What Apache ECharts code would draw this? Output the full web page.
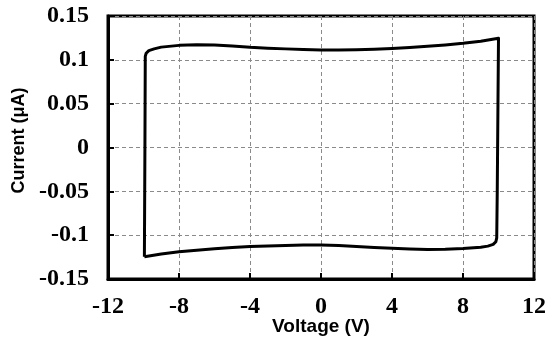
<!DOCTYPE html>
<html lang="en">

<head>
    <meta charset="UTF-8">
    <title>Current vs Voltage</title>
    <script src="https://cdn.jsdelivr.net/npm/echarts@6/dist/echarts.min.js"></script>
    <style>
        body { margin: 0; background: #fff; }
    </style>
</head>

<body>
    <div id="cv" style="width: 550px;height: 348px;"></div>
    <script>
        // loop: up the left edge, forward scan along the top, down the right edge, back along the bottom
        var voltage = [-9.95, -9.92, -9.9, -9.85, -9.7, -9.4, -9, -8, -7, -6, -5, -4, -3, -2, -1, 0,
            1, 2, 3, 4, 5, 6, 7, 8, 9, 10, 9.97, 9.93, 9.9, 9.85, 9.7, 9.4, 9, 8, 7, 6, 5, 4, 3, 2, 1, 0,
            -1, -2, -3, -4, -5, -6, -7, -8, -9, -9.95];
        var current = [-0.1245, 0, 0.104, 0.1075, 0.1105, 0.1125, 0.1145, 0.1165, 0.1173, 0.117, 0.1158,
            0.1143, 0.1133, 0.1125, 0.1117, 0.1112, 0.1112, 0.1115, 0.112, 0.1128, 0.114, 0.1155, 0.117,
            0.1188, 0.1212, 0.1245, 0.05, -0.05, -0.103, -0.1075, -0.1105, -0.1125, -0.1138, -0.1153,
            -0.1162, -0.1163, -0.1158, -0.115, -0.114, -0.1128, -0.1118, -0.1113, -0.1113, -0.1118,
            -0.1123, -0.113, -0.114, -0.1155, -0.1172, -0.119, -0.1215, -0.1245];
        var xTicks = [-12, -8, -4, 0, 4, 8, 12];
        var yTicks = [-0.15, -0.1, -0.05, 0, 0.05, 0.1, 0.15];

        var points = [];
        for (var i = 0; i < voltage.length; i++) {
            points.push([voltage[i], current[i]]);
        }

        var tickFont = {
            fontFamily: 'Liberation Serif',
            fontWeight: 'bold',
            fontSize: 24,
            color: '#000'
        };
        var nameFont = {
            fontFamily: 'Liberation Sans',
            fontWeight: 'bold',
            fontSize: 18,
            color: '#000'
        };
        var grayDash = { color: '#8a8a8a', width: 1, type: [4, 3] };

        var chart = echarts.init(document.getElementById("cv"));

        var option = {
            animation: false,
            grid: {
                left: 108, right: 16, top: 16, bottom: 69,
                outerBoundsMode: 'none', containLabel: false,
                show: true, borderColor: '#000', borderWidth: 3
            },
            xAxis: {
                type: 'value',
                min: xTicks[0], max: xTicks[xTicks.length - 1], interval: 4,
                name: 'Voltage (V)', nameLocation: 'middle', nameGap: 38,
                nameMoveOverlap: false,
                nameTextStyle: Object.assign({}, nameFont, { fontSize: 19 }),
                axisLine: { show: true, onZero: false, lineStyle: { color: '#000', width: 3 } },
                axisTick: { show: true, inside: true, length: 6, lineStyle: { color: '#000', width: 2 } },
                axisLabel: Object.assign({ margin: 16 }, tickFont),
                splitLine: { show: true, lineStyle: grayDash }
            },
            yAxis: {
                type: 'value',
                min: yTicks[0], max: yTicks[yTicks.length - 1], interval: 0.05,
                name: 'Current (\u03bcA)', nameLocation: 'middle', nameGap: 80,
                nameMoveOverlap: false,
                nameTextStyle: Object.assign({ padding: [0, 0, 0, 14] }, nameFont),
                axisLine: { show: true, onZero: false, lineStyle: { color: '#000', width: 3 } },
                axisTick: { show: true, inside: true, length: 6, lineStyle: { color: '#000', width: 2 } },
                axisLabel: Object.assign({
                    margin: 19,
                    formatter: function (v) { return String(Math.round(v * 100) / 100); }
                }, tickFont),
                splitLine: { show: true, lineStyle: grayDash }
            },
            series: [
                {
                    type: 'line',
                    data: points,
                    showSymbol: false,
                    smooth: false,
                    lineStyle: { color: '#000', width: 3, join: 'round' }
                }
            ]
        };

        chart.setOption(option);
    </script>
</body>

</html>
